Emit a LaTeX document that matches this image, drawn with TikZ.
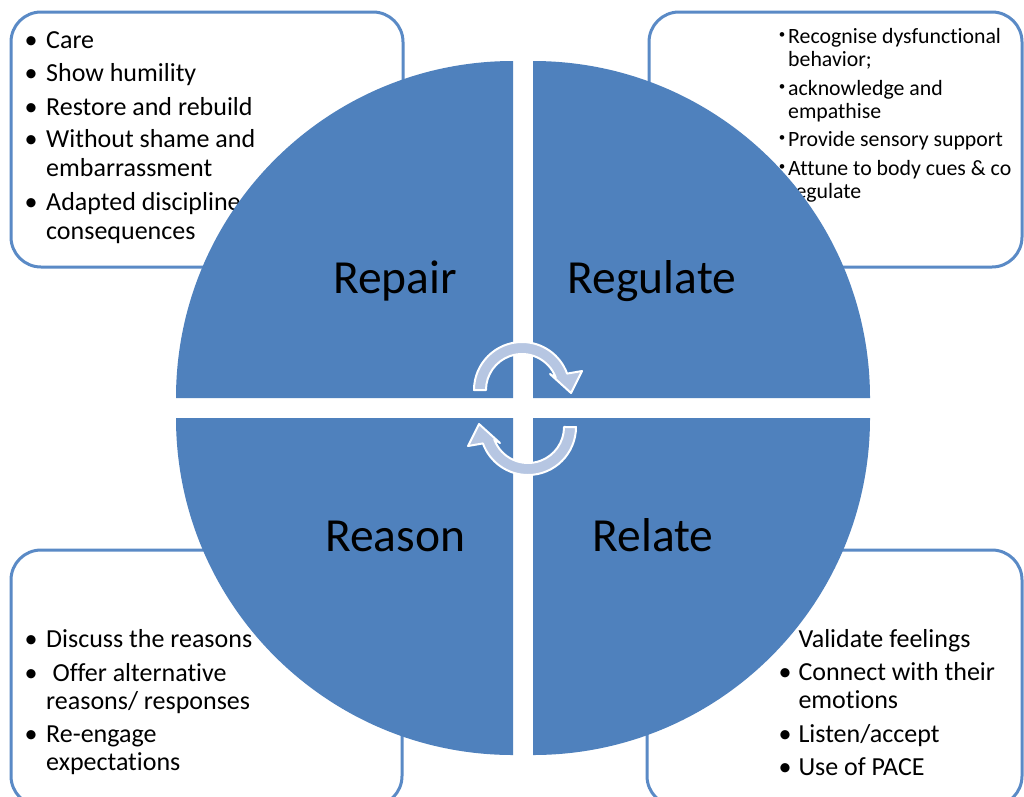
\documentclass[tikz,border=0pt]{standalone}
\usepackage{fontspec}
\setmainfont[Ligatures={NoCommon,NoContextual}]{Carlito}
\definecolor{qblue}{HTML}{4F81BD}
\definecolor{bborder}{HTML}{5A8AC6}
\definecolor{arrowfill}{HTML}{B6C6E2}
\begin{document}
\begin{tikzpicture}[x=1pt,y=-1pt,
  box/.style={draw=bborder, line width=3pt, fill=white, rounded corners=30pt},
  quad/.style={fill=qblue},
  item/.style={anchor=base west, inner sep=0pt, font=\fontsize{26}{30}\selectfont},
  sitem/.style={anchor=base west, inner sep=0pt, font=\fontsize{21.8}{26}\selectfont},
  bul/.style={anchor=base, inner sep=0pt, font=\fontsize{26}{30}\selectfont},
  sbul/.style={anchor=base, inner sep=0pt, font=\fontsize{13}{16}\selectfont},
  lbl/.style={anchor=base, inner sep=0pt, font=\fontsize{47.5}{56}\selectfont},
  cyc/.style={fill=arrowfill, draw=white, line width=2pt, line join=round}]
\useasboundingbox (0,0) rectangle (1024,796);
\fill[white] (0,0) rectangle (1024,796);

% boxes
\draw[box] (11,12) rectangle (403,267);
\draw[box] (649,12) rectangle (1022,267);
\draw[box] (11,550) rectangle (402,806);
\draw[box] (647,550) rectangle (1022,806);

% top-left text
\node[bul] (tlb1) at (31,48.3) {•};  \node[item] (tl1) at (46,48.3) {Care};
\node[bul] (tlb2) at (31,81.7) {•};  \node[item] (tl2) at (46,81.7) {Show humility};
\node[bul] (tlb3) at (31,115) {•};   \node[item] (tl3) at (46,115) {Restore and rebuild};
\node[bul] (tlb4) at (31,147.7) {•}; \node[item] (tl4) at (46,147.7) {Without shame and};
\node[item] (tl5) at (46,176) {embarrassment};
\node[bul] (tlb6) at (31,210) {•};   \node[item] (tl6) at (46,210) {Adapted discipline};
\node[item] (tl7) at (46,239) {consequences};

% top-right text
\node[sbul] (trb1) at (782,38.5) {•}; \node[sitem] (tr1) at (788,43.3) {Recognise dysfunctional};
\node[sitem] (tr2) at (788,66.7) {behavior;};
\node[sbul] (trb3) at (782,90.2) {•}; \node[sitem] (tr3) at (788,95) {acknowledge and};
\node[sitem] (tr4) at (788,118.3) {empathise};
\node[sbul] (trb5) at (782,141.9) {•}; \node[sitem] (tr5) at (788,146.7) {Provide sensory support};
\node[sbul] (trb6) at (782,170.2) {•}; \node[sitem] (tr6) at (788,175) {Attune to body cues \& co};
\node[sitem] (tr7) at (788,198.3) {regulate};

% bottom-left text
\node[bul] (blb1) at (31,647.3) {•}; \node[item] (bl1) at (46,647.3) {Discuss the reasons};
\node[bul] (blb2) at (31,681.7) {•}; \node[item] (bl2) at (52.5,681.7) {Offer alternative};
\node[item] (bl3) at (46,709.3) {reasons/ responses};
\node[bul] (blb4) at (31,742.7) {•}; \node[item] (bl4) at (46,742.7) {Re-engage};
\node[item] (bl5) at (46,770.7) {expectations};

% bottom-right text
\node[item] (br1) at (798.3,647.3) {Validate feelings};
\node[bul] (brb2) at (785,680) {•}; \node[item] (br2) at (798.3,680) {Connect with their};
\node[item] (br3) at (798.3,708.3) {emotions};
\node[bul] (brb4) at (785,742.7) {•}; \node[item] (br4) at (798.3,742.7) {Listen/accept};
\node[bul] (brb5) at (785,775) {•}; \node[item] (br5) at (798.3,775) {Use of PACE};

% quadrants
\fill[quad] (513,398) -- (176,398) arc[start angle=180, end angle=270, radius=337] -- cycle;
\fill[quad] (533,398) -- (533,61) arc[start angle=270, end angle=360, radius=337] -- cycle;
\fill[quad] (513,418) -- (176,418) arc[start angle=180, end angle=90, radius=337] -- cycle;
\fill[quad] (533,418) -- (870,418) arc[start angle=0, end angle=90, radius=337] -- cycle;

% labels
\node[lbl] (repair) at (395,293) {Repair};
\node[lbl] (regulate) at (652,293) {Regulate};
\node[lbl] (reason) at (395,551) {Reason};
\node[lbl] (relate) at (653,551) {Relate};

% cycle arrows
\begin{scope}[shift={(522,390)}]
\draw[cyc] (-48,0) arc[start angle=180,end angle=340,radius=48] -- (60,-19) -- (49,3) -- (28,-16) -- (33.8,-12.3) arc[start angle=340,end angle=180,radius=36] -- cycle;
\end{scope}
\begin{scope}[shift={(528,427)}, rotate=180]
\draw[cyc] (-48,0) arc[start angle=180,end angle=340,radius=48] -- (60,-19) -- (49,3) -- (28,-16) -- (33.8,-12.3) arc[start angle=340,end angle=180,radius=36] -- cycle;
\end{scope}
\end{tikzpicture}
\end{document}
